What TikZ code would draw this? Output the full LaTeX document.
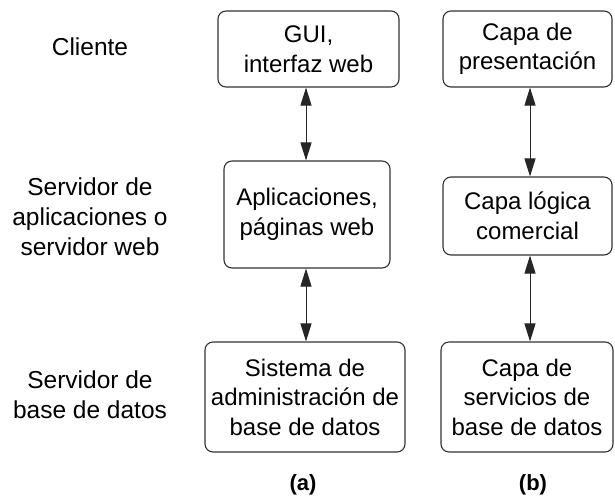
\documentclass[tikz,border=0pt]{standalone}
\usepackage{fontspec}
\setmainfont{Liberation Sans}
\usetikzlibrary{arrows.meta}
\begin{document}
\begin{tikzpicture}[x=1pt,y=-1pt,
  box/.style={draw=black!80,line width=1.1pt,rounded corners=8pt,align=center,inner sep=0pt,
    font=\fontsize{24}{29.5}\selectfont},
  lbl/.style={align=center,font=\fontsize{24.5}{30}\selectfont},
  conn/.style={line width=1pt,draw=black!85,{Triangle[length=18pt,width=11pt]}-{Triangle[length=18pt,width=11pt]}}]
\useasboundingbox (0,0) rectangle (615,498);
% labels left
\node[lbl] (cli) at (90,47) {Cliente};
\node[lbl] (sapp) at (90,217) {Servidor de\\aplicaciones o\\servidor web};
\node[lbl] (sbd) at (90,395) {Servidor de\\base de datos};
% column a
\node[box,minimum width=181pt,minimum height=76pt] (gui) at (308.5,49) {GUI,\\interfaz web};
\node[box,minimum width=166pt,minimum height=107pt] (app) at (307,214.5) {Aplicaciones,\\páginas web};
\node[box,minimum width=200pt,minimum height=110pt] (sgbd) at (305,397) {Sistema de\\administración de\\base de datos};
% column b
\node[box,minimum width=169pt,minimum height=76pt] (pres) at (527.5,49) {Capa de\\presentación};
\node[box,minimum width=169pt,minimum height=78pt] (logic) at (527.5,216) {Capa lógica\\comercial};
\node[box,minimum width=172pt,minimum height=110pt] (serv) at (527,397) {Capa de\\servicios de\\base de datos};
% connectors
\draw[conn] (gui.south -| 306,0) -- (app.north -| 306,0);
\draw[conn] (app.south -| 306,0) -- (sgbd.north -| 306,0);
\draw[conn] (pres.south -| 530,0) -- (logic.north -| 530,0);
\draw[conn] (logic.south -| 530,0) -- (serv.north -| 530,0);
% captions
\node[lbl,font=\bfseries\fontsize{22}{26}\selectfont] (capa) at (303,485) {(a)};
\node[lbl,font=\bfseries\fontsize{22}{26}\selectfont] (capb) at (533,485) {(b)};
\end{tikzpicture}
\end{document}
